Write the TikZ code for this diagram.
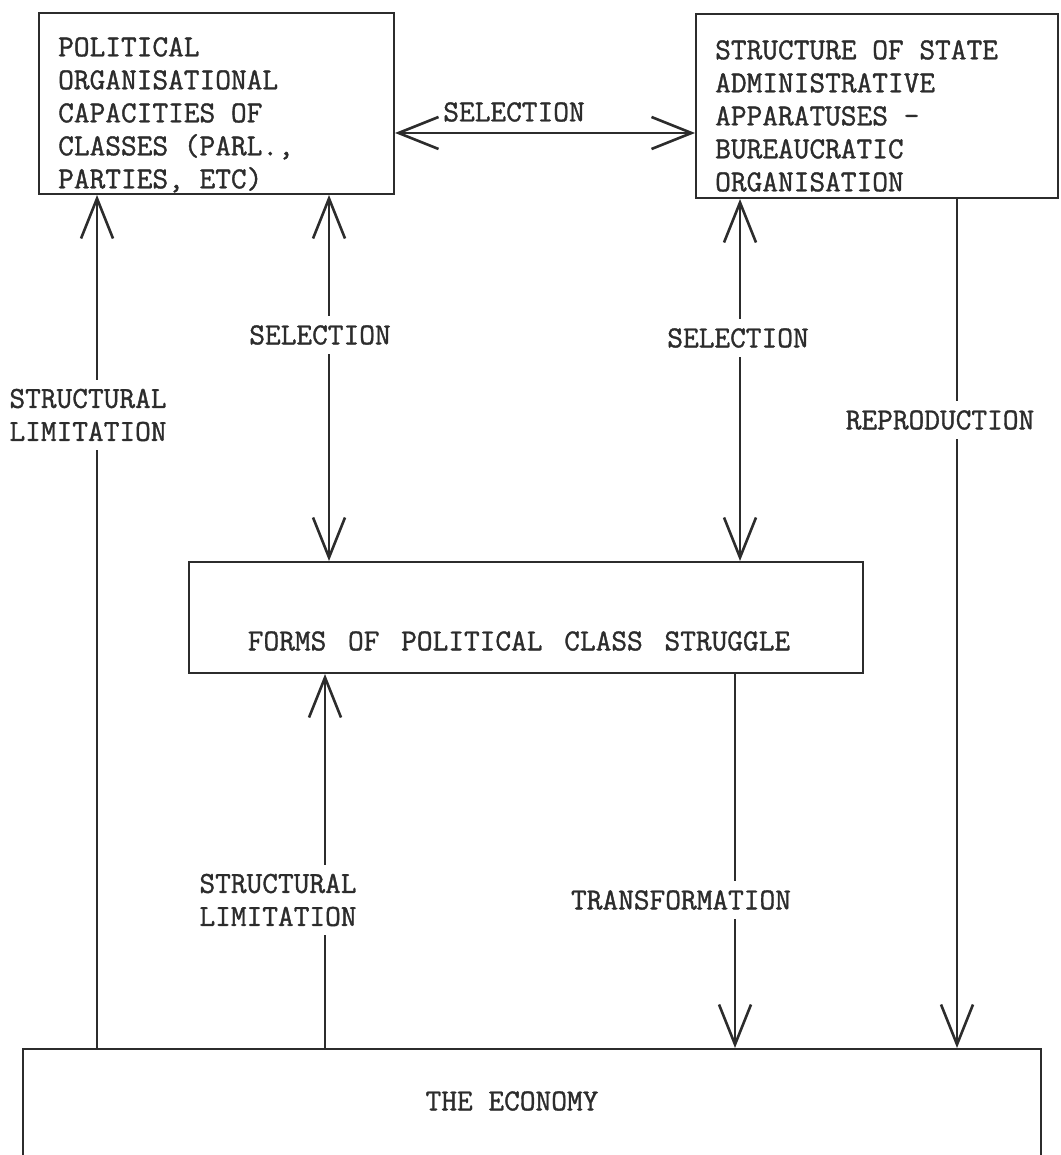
\documentclass[tikz,border=0pt]{standalone}
\usepackage{fontspec}
\setmonofont{Latin Modern Mono}[FakeBold=1.2]
\usetikzlibrary{arrows.meta,calc}
\definecolor{ink}{HTML}{2C2C2C}
\tikzset{
  vee/.tip={Straight Barb[length=40pt,width=32pt,line width=2.6pt]},
  frame/.style={draw=ink, line width=2pt, inner sep=0pt, anchor=north west},
  conn/.style={draw=ink, line width=2pt},
  typed/.style={font=\ttfamily\bfseries\fontsize{30.5}{33}\selectfont, text=ink},
  boxtext/.style={typed, align=left, inner sep=0pt, anchor=north west},
  lbl/.style={typed, align=center, fill=white, inner xsep=2pt, inner ysep=9pt},
}
\begin{document}
\begin{tikzpicture}[x=1pt, y=-1pt]
  \useasboundingbox (0,0) rectangle (1060,1155);
  \clip (0,0) rectangle (1060,1155);

  % boxes
  \node[frame, minimum width=355pt, minimum height=181pt] (A) at (38,12) {};
  \node[frame, minimum width=362pt, minimum height=184pt] (B) at (695,13) {};
  \node[frame, minimum width=674pt, minimum height=111pt] (C) at (188,561) {};
  \node[frame, minimum width=1018pt, minimum height=160pt] (D) at (22,1048) {};

  % box texts
  \node[boxtext] (At) at (58,37) {POLITICAL\\ORGANISATIONAL\\CAPACITIES OF\\CLASSES (PARL.,\\PARTIES, ETC)};
  \node[boxtext] (Bt) at (715,40) {STRUCTURE OF STATE\\ADMINISTRATIVE\\APPARATUSES -\\BUREAUCRATIC\\ORGANISATION};
  \node[typed, inner sep=0pt] (Ct) at (519,641) {FORMS\hspace{6pt} OF\hspace{6pt} POLITICAL\hspace{6pt} CLASS\hspace{6pt} STRUGGLE};
  \node[typed, inner sep=0pt] (Dt) at (512,1101) {THE ECONOMY};

  % connector positions
  \coordinate (xL)  at (97,0);
  \coordinate (xS1) at (329,0);
  \coordinate (xS2) at (740,0);
  \coordinate (xR)  at (957,0);
  \coordinate (xSL) at (325,0);
  \coordinate (xT)  at (735,0);
  \coordinate (yH)  at (0,133);

  % connectors
  \draw[conn, -vee] (D.north -| xL) -- (A.south -| xL);
  \draw[conn, vee-vee] (A.south -| xS1) -- (C.north -| xS1);
  \draw[conn, vee-vee] (A.east |- yH) -- (B.west |- yH);
  \draw[conn, vee-vee] (B.south -| xS2) -- (C.north -| xS2);
  \draw[conn, -vee] (B.south -| xR) -- (D.north -| xR);
  \draw[conn, -vee] (D.north -| xSL) -- (C.south -| xSL);
  \draw[conn, -vee] (C.south -| xT) -- (D.north -| xT);

  % connector labels
  \node[lbl] (lL)  at (88,415)  {STRUCTURAL\\LIMITATION};
  \node[lbl] (lS1) at (320,335) {SELECTION};
  \node[typed, inner sep=0pt] (lH) at (514,112) {SELECTION};
  \node[lbl] (lS2) at (738,338) {SELECTION};
  \node[lbl] (lR)  at (940,420) {REPRODUCTION};
  \node[lbl] (lSL) at (278,900) {STRUCTURAL\\LIMITATION};
  \node[lbl] (lT)  at (681,900) {TRANSFORMATION};
\end{tikzpicture}
\end{document}
